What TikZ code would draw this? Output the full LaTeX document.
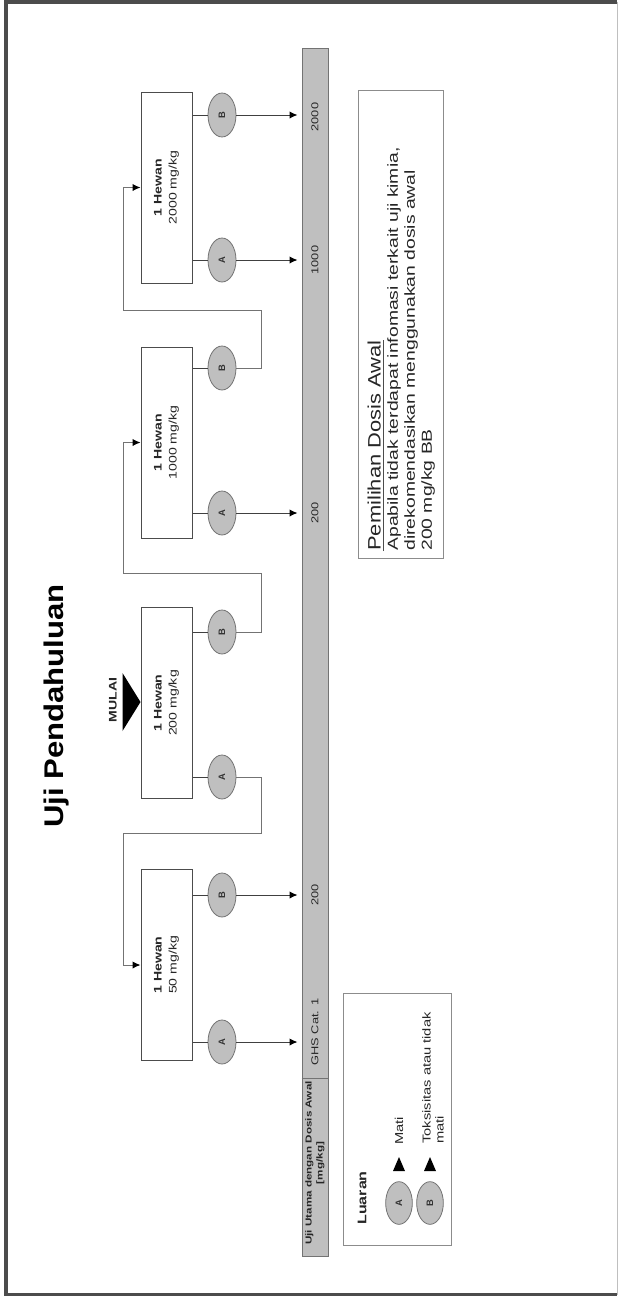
\documentclass[tikz,border=0pt]{standalone}
\usepackage{fontspec}
\setmainfont{Liberation Sans}
\usetikzlibrary{arrows.meta,shapes.geometric}

\tikzset{
  rt/.style={rotate=90, xscale=1.28, inner sep=0pt, text=black!85},
  boxtext/.style={rt, align=center, font=\fontsize{8.25pt}{11.25pt}\selectfont},
  barlab/.style={rt, font=\fontsize{7.5pt}{8.5pt}\selectfont},
  doseblock/.style={draw=black!70, line width=0.75pt, fill=white,
    minimum width=38.25pt, minimum height=143.25pt, inner sep=0pt},
  outcome/.style={ellipse, draw=black!55, fill=black!25, line width=0.6pt,
    minimum width=21pt, minimum height=33pt, inner sep=0pt},
  lett/.style={rotate=90, font=\fontsize{7pt}{7.5pt}\selectfont\bfseries,
    text=black!80, inner sep=0pt},
  tip/.style={-{Latex[length=6pt,width=5.5pt,fill=black,color=black]}},
  conn/.style={draw=black!75, line width=0.75pt},
  arr/.style={conn, tip, shorten >=3pt},
  back/.style={draw=black!55, line width=0.75pt, tip},
  panel/.style={draw=black!45, line width=0.75pt, inner sep=0pt},
}

\begin{document}
\begin{tikzpicture}[x=0.75pt, y=-0.75pt]
\useasboundingbox (0,0) rectangle (621,1296);

% outer frame
\draw[black!25, line width=0.75pt] (617,2) -- (617,1294.5);
\draw[black!70, line width=3pt] (617,2) -- (5.5,2) -- (5.5,1294.5) -- (617,1294.5);

% title
\node[rt, font=\fontsize{20.25pt}{24pt}\selectfont\bfseries, xscale=0.9, text=black] (title) at (57,706) {Uji Pendahuluan};

% main-test dose bar
\node[draw=black!55, fill=black!25, line width=0.75pt, minimum width=19.5pt, minimum height=906pt, inner sep=0pt] (bar) at (315,652) {};
\coordinate (div) at (315,1078);
\draw[black!55, line width=0.75pt] (bar.west |- div) -- (bar.east |- div);

\node[barlab] (l2000) at (315,117) {2000};
\node[barlab] (l1000) at (315,260) {1000};
\node[barlab] (l200a) at (315,513) {200};
\node[barlab] (l200b) at (315,895) {200};
\node[barlab] (lcat)  at (315,1032) {GHS Cat. 1};
\node[rt, align=center, font=\fontsize{6.5pt}{8.25pt}\selectfont\bfseries, xscale=1.05] (lhead) at (315,1163) {Uji Utama dengan Dosis Awal\\{}[mg/kg]};

% dose blocks
\node[doseblock] (b2000) at (166.5,187.5) {};
\node[doseblock] (b1000) at (166.5,442.5) {};
\node[doseblock] (b200)  at (166.5,703) {};
\node[doseblock] (b50)   at (166.5,965) {};

\node[boxtext] (t2000) at (b2000) {\textbf{1 Hewan}\\2000 mg/kg};
\node[boxtext] (t1000) at (b1000) {\textbf{1 Hewan}\\1000 mg/kg};
\node[boxtext] (t200)  at (b200)  {\textbf{1 Hewan}\\200 mg/kg};
\node[boxtext] (t50)   at (b50)   {\textbf{1 Hewan}\\50 mg/kg};

% outcomes
\node[outcome, label={[lett]center:B}] (o2000B) at (222,115) {};
\node[outcome, label={[lett]center:A}] (o2000A) at (222,260) {};
\node[outcome, label={[lett]center:B}] (o1000B) at (222,368) {};
\node[outcome, label={[lett]center:A}] (o1000A) at (222,513) {};
\node[outcome, label={[lett]center:B}] (o200B)  at (222,632) {};
\node[outcome, label={[lett]center:A}] (o200A)  at (222,777) {};
\node[outcome, label={[lett]center:B}] (o50B)   at (222,895) {};
\node[outcome, label={[lett]center:A}] (o50A)   at (222,1042) {};

% block to outcome
\foreach \b/\o in {b2000/o2000B, b2000/o2000A, b1000/o1000B, b1000/o1000A,
                   b200/o200B, b200/o200A, b50/o50B, b50/o50A}
  \draw[conn] (\b.east |- \o) -- (\o.west);

% outcome to main-test dose
\foreach \o in {o2000B, o2000A, o1000A, o50B, o50A}
  \draw[arr] (\o.east) -- (\o.east -| bar.west);

% outcome to next sighting dose
\draw[back] (o1000B.east) -- ++(25,0) |- (123,310) |- (b2000.west);
\draw[back] (o200B.east)  -- ++(25,0) |- (123,573) |- (b1000.west);
\draw[back] (o200A.east)  -- ++(25,0) |- (123,833) |- (b50.west);

% start marker
\coordinate (mulaitip) at (b200.west |- 0,702);
\fill[black] (mulaitip) -- ++(-18,-29) -- ++(0,58) -- cycle;
\node[rt, font=\fontsize{8.25pt}{9pt}\selectfont\bfseries] (mulai) at (113,700) {MULAI};

% starting-dose note
\node[panel, minimum width=63.75pt, minimum height=351pt] (pbox) at (400.5,324) {};
\node[rt, xscale=0.95, font=\fontsize{13.5pt}{16pt}\selectfont, anchor=south west] (ptitle) at (381,551) {Pemilihan Dosis Awal};
\draw[black!70, line width=0.75pt] ([xshift=1.5pt]ptitle.south west) -- ([xshift=1.5pt]ptitle.south east);
\node[rt, xscale=1.04, align=left, font=\fontsize{10.9pt}{12.75pt}\selectfont, anchor=north west] (pbody) at (387,551)
  {Apabila tidak terdapat infomasi terkait uji kimia,\\direkomendasikan menggunakan dosis awal\\200 mg/kg BB};

% legend
\node[panel, minimum width=81pt, minimum height=189pt] (legend) at (397,1119) {};
\node[rt, font=\fontsize{9.4pt}{11pt}\selectfont\bfseries] (luaran) at (362,1198) {Luaran};
\node[outcome, minimum width=20pt, minimum height=32pt, label={[lett]center:A}] (legA) at (399,1203) {};
\node[outcome, minimum width=20pt, minimum height=32pt, label={[lett]center:B}] (legB) at (430,1203) {};
\fill[black] (399,1157) -- ++(6,14) -- ++(-12,0) -- cycle;
\fill[black] (430,1157) -- ++(6,14) -- ++(-12,0) -- cycle;
\node[rt, font=\fontsize{8.6pt}{9.75pt}\selectfont, anchor=west] (legAt) at (399,1145) {Mati};
\node[rt, align=left, font=\fontsize{8.6pt}{9.75pt}\selectfont, anchor=west] (legBt) at (433,1144) {Toksisitas atau tidak\\mati};
\end{tikzpicture}
\end{document}
